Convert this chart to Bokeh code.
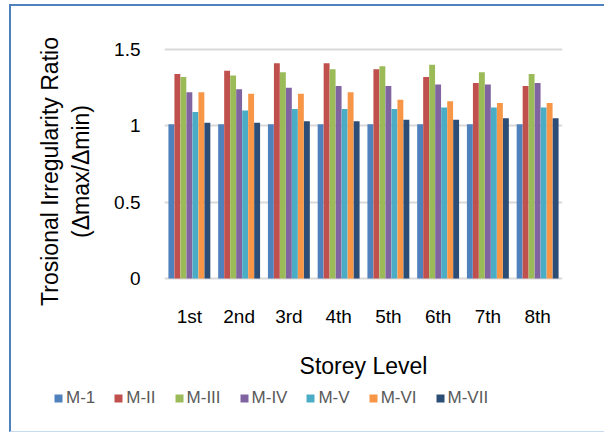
from bokeh.plotting import figure
from bokeh.models import FactorRange, Range1d, Legend, LegendItem, FixedTicker, ColumnDataSource
from bokeh.layouts import column, row
from bokeh.transform import dodge
from bokeh.embed import file_html
from bokeh.resources import INLINE

storeys = ["1st", "2nd", "3rd", "4th", "5th", "6th", "7th", "8th"]
series_names = ["M-1", "M-II", "M-III", "M-IV", "M-V", "M-VI", "M-VII"]
m1 = [1.01, 1.01, 1.01, 1.01, 1.01, 1.01, 1.01, 1.01]
m2 = [1.34, 1.36, 1.41, 1.41, 1.37, 1.32, 1.28, 1.26]
m3 = [1.32, 1.33, 1.35, 1.37, 1.39, 1.40, 1.35, 1.34]
m4 = [1.22, 1.24, 1.25, 1.26, 1.26, 1.27, 1.27, 1.28]
m5 = [1.09, 1.10, 1.11, 1.11, 1.11, 1.12, 1.12, 1.12]
m6 = [1.22, 1.21, 1.21, 1.22, 1.17, 1.16, 1.15, 1.15]
m7 = [1.02, 1.02, 1.03, 1.03, 1.04, 1.04, 1.05, 1.05]
colors = ["#4F81BD", "#C0504D", "#9BBB59", "#8064A2", "#4BACC6", "#F79646", "#2C4D75"]
y_ticks = [0, 0.5, 1, 1.5]

all_series = [m1, m2, m3, m4, m5, m6, m7]
data = {"storey": storeys}
for name, vals in zip(series_names, all_series):
    data[name] = vals
src = ColumnDataSource(data)

FONT = "Liberation Sans"
bw = 0.1207

# main chart
p = figure(width=593, height=375, output_backend="svg", toolbar_location=None,
           x_range=FactorRange(factors=storeys, range_padding=0),
           y_range=Range1d(-0.125, 1.526),
           min_border_left=153, min_border_right=42, min_border_top=39, min_border_bottom=79,
           background_fill_color="white", border_fill_color="white")
p.outline_line_color = None

for k, name in enumerate(series_names):
    p.vbar(x=dodge("storey", (k - 3) * bw, range=p.x_range), top=name, width=bw * 0.98,
           bottom=0, source=src, fill_color=colors[k], line_color=None)

p.xgrid.grid_line_color = None
p.ygrid.grid_line_color = "#D9D9D9"
p.ygrid.grid_line_width = 2
p.yaxis.ticker = FixedTicker(ticks=y_ticks)

for ax in (p.xaxis[0], p.yaxis[0]):
    ax.axis_line_color = None
    ax.major_tick_line_color = None
    ax.minor_tick_line_color = None
    ax.major_tick_out = 0
    ax.major_tick_in = 0
    ax.minor_tick_out = 0
    ax.major_label_text_font = FONT
    ax.major_label_text_font_size = "19px"
    ax.major_label_text_color = "#000000"
    ax.axis_label_text_font = FONT
    ax.axis_label_text_font_size = "23px"
    ax.axis_label_text_font_style = "normal"
    ax.axis_label_text_color = "#000000"

p.yaxis.major_label_standoff = 24
p.yaxis.major_label_overrides = {0: "0", 0.5: "0.5", 1: "1", 1.5: "1.5"}
p.yaxis.axis_label = "Trosional Irregularity Ratio\n(Δmax/Δmin)"
p.yaxis.axis_label_standoff = 17

p.xaxis.major_label_standoff = 8
p.xaxis.axis_label = "Storey Level"
p.xaxis.axis_label_standoff = 23

# legend strip (its bars lie outside its visible range, only the legend shows)
lg = figure(width=593, height=50, output_backend="svg", toolbar_location=None,
            x_range=FactorRange(factors=storeys, range_padding=0), y_range=Range1d(10, 11),
            x_axis_location=None, y_axis_location=None,
            min_border_left=0, min_border_right=0, min_border_top=0, min_border_bottom=0,
            background_fill_color="white", border_fill_color="white")
lg.outline_line_color = None
lg.grid.grid_line_color = None
items = []
for k, name in enumerate(series_names):
    r = lg.vbar(x=dodge("storey", (k - 3) * bw, range=lg.x_range), top=name, width=bw,
                bottom=0, source=src, fill_color=colors[k], line_color=None)
    items.append(LegendItem(label=name, renderers=[r]))

legend = Legend(items=items, orientation="horizontal", location=(42, 23),
                glyph_width=10, glyph_height=10, label_standoff=3, spacing=18,
                padding=0, margin=0, border_line_color=None, background_fill_alpha=0,
                label_text_font=FONT, label_text_font_size="17px", label_text_color="#595959")
lg.add_layout(legend, "center")

layout = column(p, row(lg, spacing=0), spacing=0,
                styles={"margin-left": "9px", "margin-top": "4px",
                        "border-left": "2px solid #4F81BD", "border-top": "2px solid #4F81BD",
                        "border-bottom": "1px solid #C6DBEF"})

open("out.html", "w").write(file_html(layout, INLINE))
